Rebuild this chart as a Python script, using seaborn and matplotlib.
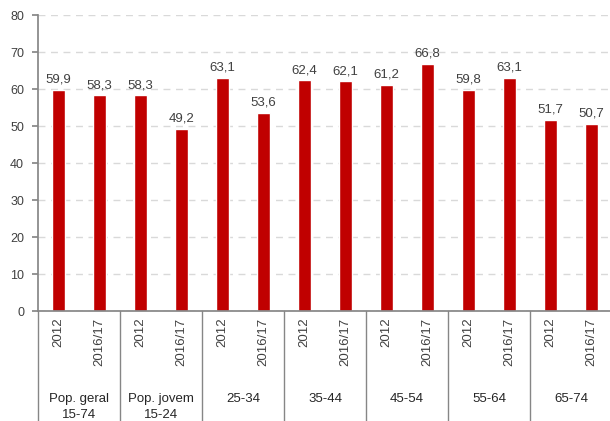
import matplotlib
matplotlib.use("Agg")
import matplotlib.pyplot as plt
import seaborn as sns
import pandas as pd

groups = ["Pop. geral\n15-74", "Pop. jovem\n15-24", "25-34", "35-44", "45-54", "55-64", "65-74"]
years = ["2012", "2016/17"]
values = [59.9, 58.3, 58.3, 49.2, 63.1, 53.6, 62.4, 62.1, 61.2, 66.8, 59.8, 63.1, 51.7, 50.7]
yticks = [0, 10, 20, 30, 40, 50, 60, 70, 80]

sns.set_theme(style="white")
plt.rcParams['font.family'] = ['Liberation Sans', 'DejaVu Sans']

cats = [f"{g}|{y}" for g in groups for y in years]
df = pd.DataFrame({"cat": cats, "value": values})

fig = plt.figure(figsize=(6.10, 4.21), dpi=100)
ax = fig.add_axes([0.0623, 0.261, 0.941, 0.703])

sns.barplot(data=df, x="cat", y="value", color="#C00000", width=0.33,
            saturation=1, ax=ax, order=cats)

ax.set_ylim(0, 80)
ax.set_xlim(-0.5, len(cats) - 0.5)
ax.set_yticks(yticks)
ax.set_yticklabels([str(t) for t in yticks], color="#404040", fontsize=9)
ax.yaxis.grid(True, linestyle=(0, (5, 4)), color="#D9D9D9", linewidth=1)
ax.set_axisbelow(True)
ax.tick_params(axis="y", length=4, color="#868686", direction="out", left=True, pad=6)
ax.set_xlabel("")
ax.set_ylabel("")
ax.set_xticks([])
for s in ["top", "right"]:
    ax.spines[s].set_visible(False)
ax.spines["left"].set_color("#868686")
ax.spines["bottom"].set_color("#868686")

# value labels
for i, v in enumerate(values):
    ax.annotate(f"{v:.1f}".replace(".", ","), (i, v), xytext=(0, 3),
                textcoords="offset points", ha="center", va="bottom",
                fontsize=9.5, color="#404040")

# year labels and group labels
tr = ax.get_xaxis_transform()
for i, c in enumerate(cats):
    yr = c.split("|")[1]
    ax.text(i, -0.022, yr, rotation=90, ha="center", va="top", transform=tr,
            fontsize=9.5, color="#404040")
for gi, g in enumerate(groups):
    xc = gi * 2 + 0.5
    ax.text(xc, -0.275, g, ha="center", va="top", transform=tr, fontsize=9.5,
            color="#262626", linespacing=1.55)
# separators
for gi in range(len(groups) + 1):
    xb = gi * 2 - 0.5
    ax.plot([xb, xb], [0, -0.38], transform=tr, color="#868686", lw=1, clip_on=False)

fig.savefig("out.png", dpi=100)
